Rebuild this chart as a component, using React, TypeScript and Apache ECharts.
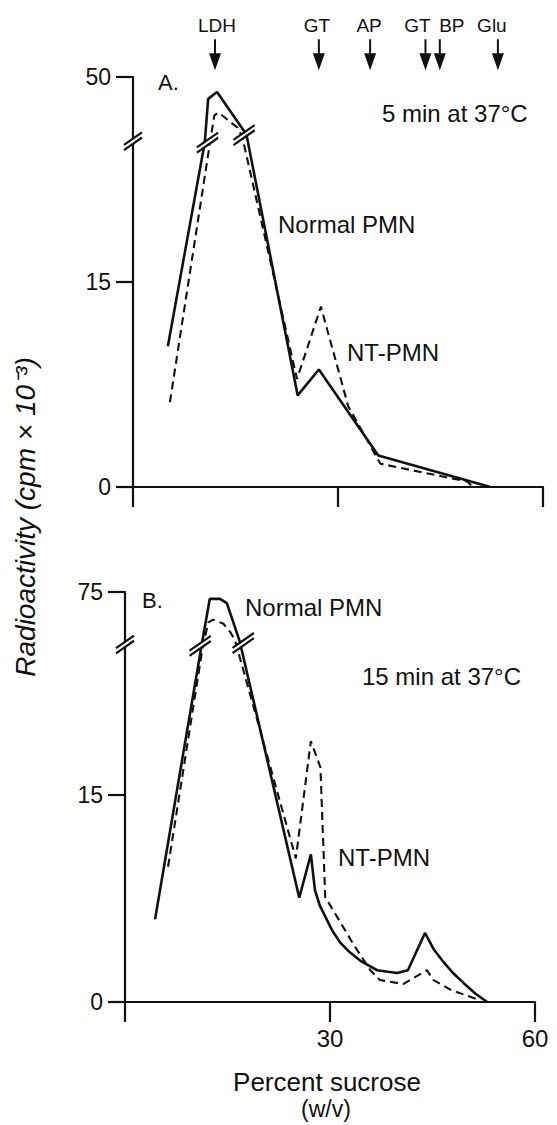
import React, { useEffect, useRef } from "react";
import * as echarts from "echarts";

const FONT = '"Liberation Sans", Arial, Helvetica, sans-serif';
const INK = "#111";

// ---- data (x = percent sucrose, y = radioactivity, cpm x 10^-3) ----
const markerNames = ["LDH", "GT", "AP", "GT", "BP", "Glu"];
const markerSucrose = [12.0, 27.2, 34.7, 42.8, 44.9, 53.4];
const markerLabelShift = [2, -2, -1, -8, 12, -6];

const aNormal: [number, number][] = [
  [5.1, 10.3], [10.5, 25.2], [11.0, 48.4], [12.3, 48.9], [16.6, 25.8],
  [24.1, 6.7], [27.2, 8.6], [35.9, 2.3], [52.3, 0],
];
const aNT: [number, number][] = [
  [5.4, 6.2], [11.3, 25.3], [11.9, 47.2], [12.5, 47.4], [15.3, 46.3],
  [16.0, 25.6], [24.0, 7.9], [27.5, 13.2], [31.5, 5.9], [36.2, 1.7],
  [48.9, 0.4], [49.8, 0],
];
const bNormal: [number, number][] = [
  [4.4, 6.0], [11.2, 25.8], [12.4, 74.5], [13.9, 74.5], [14.9, 74.2],
  [16.8, 26.1], [25.5, 7.55], [27.2, 10.7], [27.8, 8.1], [28.5, 7.0],
  [29.3, 6.2], [30.3, 5.2], [31.5, 4.3], [32.9, 3.6], [34.4, 3.0],
  [36.9, 2.3], [39.8, 2.1], [41.4, 2.3], [43.9, 5.0], [45.2, 3.8],
  [46.6, 2.9], [48.0, 2.1], [49.5, 1.4], [51.3, 0.6], [53.0, 0],
];
const bNT: [number, number][] = [
  [6.3, 9.8], [11.4, 25.8], [12.2, 72.8], [12.9, 73.0], [14.4, 72.7],
  [15.4, 72.1], [16.1, 26.2], [25.0, 10.4], [27.2, 18.9], [28.6, 17.0],
  [29.3, 7.6], [31.0, 6.2], [33.4, 4.2], [35.9, 2.3], [37.3, 1.6],
  [40.7, 1.3], [44.2, 2.3], [45.1, 1.6], [47.6, 0.9], [51.5, 0.2],
];

const yTicksA = [0, 15, 50];
const yTicksB = [0, 15, 75];
const xTickLabelsB = ["30", "60"];

// broken y-axis: values above `from` are drawn shifted down by `shift`
const BREAK_A = { from: 26, shift: 20 };
const BREAK_B = { from: 26.5, shift: 45.3 };
const toDisp = (v: number, b: { from: number; shift: number }) =>
  v > b.from ? v - b.shift : v;

// break-mark positions (x in % sucrose, y in display units)
const breakMarksA = [
  { x: 0, y: 25.3, len: 22 },
  { x: 10.9, y: 25.2, len: 26 },
  { x: 16.25, y: 25.75, len: 26 },
];
const breakMarksB = [
  { x: 0, y: 25.9, len: 22 },
  { x: 11.0, y: 25.8, len: 26 },
  { x: 17.3, y: 26.0, len: 26 },
];

const ARROW_TIP = 30.5;

export default function App() {
  const ref = useRef<HTMLDivElement>(null);

  useEffect(() => {
    if (!ref.current) return;
    const chart = echarts.init(ref.current, null, { renderer: "svg" });

    const dispA = yTicksA.map((v) => toDisp(v, BREAK_A));
    const dispB = yTicksB.map((v) => toDisp(v, BREAK_B));
    const fmt = (disp: number[], real: number[]) => (v: number) => {
      const i = disp.findIndex((d) => Math.abs(d - v) < 1e-6);
      return i >= 0 ? String(real[i]) : "";
    };

    const lineStyleSolid = { color: INK, width: 2.6, type: "solid" as const };
    const lineStyleDash = { color: INK, width: 2.1, type: [8, 5] as any };

    const xAxis = [0, 1].map((i) => ({
      type: "value",
      gridIndex: i,
      min: 0,
      max: 60,
      interval: 30,
      axisLine: { show: true, onZero: false, lineStyle: { color: INK, width: 2.2 } },
      axisTick: { show: true, length: 20, lineStyle: { color: INK, width: 2.2 } },
      axisLabel: {
        show: i === 1,
        margin: 24,
        fontSize: 24,
        color: INK,
        fontFamily: FONT,
        showMinLabel: true,
        showMaxLabel: true,
        formatter: (v: number) =>
          xTickLabelsB.indexOf(String(v)) >= 0 ? String(v) : "",
      },
      splitLine: { show: false },
    }));

    const yAxis = [
      { disp: dispA, real: yTicksA },
      { disp: dispB, real: yTicksB },
    ].map((a, i) => ({
      type: "value",
      gridIndex: i,
      min: 0,
      max: a.disp[a.disp.length - 1],
      axisLine: { show: true, onZero: false, lineStyle: { color: INK, width: 2.2 } },
      axisTick: {
        show: true,
        length: 17,
        customValues: a.disp,
        lineStyle: { color: INK, width: 2.2 },
      },
      axisLabel: {
        show: true,
        customValues: a.disp,
        margin: 22,
        fontSize: 23,
        color: INK,
        fontFamily: FONT,
        formatter: fmt(a.disp, a.real),
      },
      splitLine: { show: false },
    }));

    const mk = (d: [number, number][], b: any) =>
      d.map(([x, y]) => [x, toDisp(y, b)]);

    chart.setOption({
      animation: false,
      backgroundColor: "#fff",
      grid: [
        { left: 133, top: 77, width: 410, height: 410 },
        { left: 125, top: 592, width: 410, height: 410 },
      ],
      xAxis,
      yAxis,
      series: [
        {
          name: "Normal PMN A",
          type: "line",
          xAxisIndex: 0,
          yAxisIndex: 0,
          data: mk(aNormal, BREAK_A),
          symbol: "none",
          lineStyle: lineStyleSolid,
          z: 3,
        },
        {
          name: "NT-PMN A",
          type: "line",
          xAxisIndex: 0,
          yAxisIndex: 0,
          data: mk(aNT, BREAK_A),
          symbol: "none",
          lineStyle: lineStyleDash,
          z: 3,
        },
        {
          name: "Normal PMN B",
          type: "line",
          xAxisIndex: 1,
          yAxisIndex: 1,
          data: mk(bNormal, BREAK_B),
          symbol: "none",
          lineStyle: lineStyleSolid,
          z: 3,
        },
        {
          name: "NT-PMN B",
          type: "line",
          xAxisIndex: 1,
          yAxisIndex: 1,
          data: mk(bNT, BREAK_B),
          symbol: "none",
          lineStyle: lineStyleDash,
          z: 3,
        },
        {
          name: "markers",
          type: "scatter",
          xAxisIndex: 0,
          yAxisIndex: 0,
          clip: false,
          silent: true,
          data: markerSucrose.map((x, i) => ({
            value: [x, ARROW_TIP],
            name: markerNames[i],
            label: { offset: [markerLabelShift[i], 0] },
          })),
          symbol: "path://M5 0 L7 0 L7 14 L12 14 L6 31 L0 14 L5 14 Z",
          symbolSize: [12, 31],
          symbolOffset: [0, -15.5],
          itemStyle: { color: INK, opacity: 1 },
          label: {
            show: true,
            position: "top",
            distance: 4,
            formatter: "{b}",
            fontSize: 19,
            color: INK,
            opacity: 1,
            fontFamily: FONT,
          },
        },
      ],
    });

    // break marks
    const elements: any[] = [];
    const ang = (35 * Math.PI) / 180;
    const dx = Math.cos(ang);
    const dy = -Math.sin(ang);
    const addBreak = (grid: number, m: { x: number; y: number; len: number }) => {
      const p = chart.convertToPixel({ gridIndex: grid } as any, [m.x, m.y]) as number[];
      if (!p) return;
      const [cx, cy] = p;
      const h = m.len / 2;
      const g = 2.6;
      const a1 = [cx - dx * h, cy - g - dy * h];
      const b1 = [cx + dx * h, cy - g + dy * h];
      const a2 = [cx - dx * h, cy + g - dy * h];
      const b2 = [cx + dx * h, cy + g + dy * h];
      elements.push({
        type: "polygon",
        z: 50,
        shape: {
          points: [
            [cx - dx * (h - 2), cy - g - dy * (h - 2)],
            [cx + dx * (h - 2), cy - g + dy * (h - 2)],
            [cx + dx * (h - 2), cy + g + dy * (h - 2)],
            [cx - dx * (h - 2), cy + g - dy * (h - 2)],
          ],
        },
        style: { fill: "#fff", stroke: null },
      });
      [
        [a1, b1],
        [a2, b2],
      ].forEach(([s, e]) =>
        elements.push({
          type: "line",
          z: 51,
          shape: { x1: s[0], y1: s[1], x2: e[0], y2: e[1] },
          style: { stroke: INK, lineWidth: 2.2 },
        })
      );
    };
    breakMarksA.forEach((m) => addBreak(0, m));
    breakMarksB.forEach((m) => addBreak(1, m));

    const txt = (
      text: string,
      x: number,
      y: number,
      size: number,
      align = "left",
      extra: any = {}
    ) => ({
      type: "text",
      x,
      y,
      z: 60,
      rotation: extra.rotation || 0,
      style: {
        text,
        font: `${extra.italic ? "italic " : ""}${size}px ${FONT}`,
        fill: INK,
        textAlign: align,
        textVerticalAlign: "middle",
      },
    });

    elements.push(
      txt("A.", 158, 82, 22),
      txt("5 min at 37°C", 382, 113, 24),
      txt("Normal PMN", 278, 224, 24),
      txt("NT-PMN", 347, 352, 24),
      txt("B.", 142, 600, 22),
      txt("Normal PMN", 245, 607, 24),
      txt("15 min at 37°C", 362, 676, 24),
      txt("NT-PMN", 338, 857, 24),
      txt("Percent sucrose", 327, 1082, 26, "center"),
      txt("(w/v)", 326, 1109, 23, "center"),
      txt("Radioactivity (cpm × 10⁻³)", 25, 517, 28, "center", {
        rotation: Math.PI / 2,
        italic: true,
      })
    );

    chart.setOption({ graphic: { elements } });

    return () => chart.dispose();
  }, []);

  return (
    <div
      ref={ref}
      style={{ position: "absolute", left: 0, top: 0, width: 557, height: 1125 }}
    />
  );
}
